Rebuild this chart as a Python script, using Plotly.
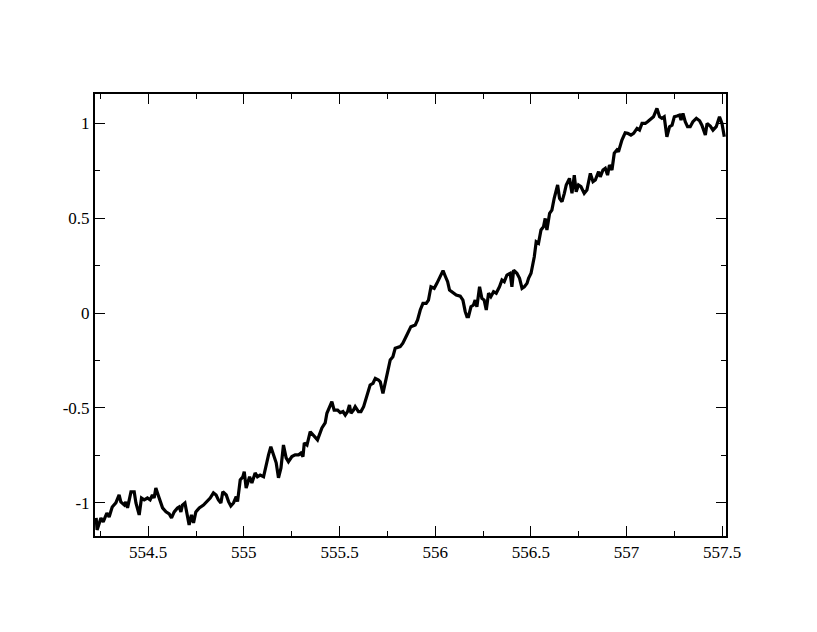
import plotly.graph_objects as go

x_vals = [
    554.228, 554.233, 554.253, 554.265, 554.284, 554.296, 554.312, 554.331, 554.348, 554.357,
    554.375, 554.383, 554.392, 554.410, 554.427, 554.436, 554.453, 554.465, 554.479, 554.496,
    554.510, 554.522, 554.531, 554.540, 554.552, 554.566, 554.575, 554.593, 554.610, 554.622,
    554.636, 554.653, 554.662, 554.671, 554.679, 554.692, 554.702, 554.714, 554.726, 554.737,
    554.749, 554.767, 554.789, 554.807, 554.824, 554.841, 554.855, 554.867, 554.880, 554.890,
    554.908, 554.920, 554.932, 554.946, 554.960, 554.967, 554.981, 554.995, 555.002, 555.012,
    555.030, 555.042, 555.059, 555.071, 555.085, 555.103, 555.117, 555.129, 555.141, 555.155,
    555.169, 555.181, 555.194, 555.207, 555.221, 555.233, 555.251, 555.268, 555.286, 555.298,
    555.309, 555.316, 555.330, 555.347, 555.364, 555.385, 555.408, 555.425, 555.434, 555.451,
    555.460, 555.472, 555.490, 555.504, 555.518, 555.530, 555.542, 555.552, 555.560, 555.573,
    555.582, 555.599, 555.612, 555.626, 555.643, 555.660, 555.675, 555.687, 555.704, 555.713,
    555.727, 555.739, 555.748, 555.756, 555.765, 555.779, 555.791, 555.817, 555.831, 555.852,
    555.873, 555.896, 555.908, 555.922, 555.936, 555.953, 555.965, 555.978, 555.995, 556.009,
    556.023, 556.041, 556.054, 556.065, 556.075, 556.093, 556.110, 556.131, 556.145, 556.157,
    556.166, 556.174, 556.187, 556.200, 556.209, 556.218, 556.232, 556.244, 556.256, 556.267,
    556.279, 556.291, 556.305, 556.319, 556.336, 556.349, 556.361, 556.375, 556.392, 556.401,
    556.410, 556.427, 556.441, 556.454, 556.466, 556.480, 556.488, 556.501, 556.511, 556.518,
    556.528, 556.540, 556.553, 556.566, 556.575, 556.584, 556.598, 556.610, 556.622, 556.640,
    556.650, 556.663, 556.675, 556.685, 556.702, 556.715, 556.727, 556.737, 556.749, 556.762,
    556.779, 556.793, 556.811, 556.825, 556.837, 556.854, 556.863, 556.877, 556.889, 556.901,
    556.911, 556.924, 556.936, 556.950, 556.958, 556.976, 556.993, 557.006, 557.023, 557.037,
    557.055, 557.068, 557.081, 557.098, 557.110, 557.128, 557.141, 557.159, 557.173, 557.185,
    557.197, 557.211, 557.225, 557.238, 557.250, 557.264, 557.277, 557.285, 557.295, 557.307,
    557.319, 557.333, 557.347, 557.365, 557.382, 557.394, 557.412, 557.421, 557.438, 557.452,
    557.469, 557.486, 557.499, 557.511,
]

y_vals = [
    -1.079, -1.142, -1.079, -1.100, -1.053, -1.074, -1.021, -1.000, -0.958, -0.995,
    -1.011, -0.995, -1.026, -0.942, -0.942, -1.000, -1.063, -0.974, -0.984, -0.974,
    -0.984, -0.958, -0.974, -0.921, -0.958, -0.995, -1.026, -1.047, -1.058, -1.079,
    -1.047, -1.026, -1.021, -1.047, -1.011, -1.000, -1.047, -1.116, -1.063, -1.105,
    -1.047, -1.026, -1.011, -0.993, -0.974, -0.947, -0.958, -0.984, -1.000, -0.941,
    -0.958, -0.993, -1.016, -1.000, -0.967, -0.993, -0.879, -0.862, -0.835, -0.921,
    -0.862, -0.895, -0.842, -0.862, -0.853, -0.862, -0.789, -0.747, -0.704, -0.747,
    -0.789, -0.868, -0.816, -0.695, -0.763, -0.783, -0.756, -0.747, -0.747, -0.738,
    -0.756, -0.684, -0.695, -0.625, -0.642, -0.668, -0.605, -0.579, -0.528, -0.493,
    -0.467, -0.511, -0.511, -0.525, -0.519, -0.537, -0.519, -0.484, -0.528, -0.511,
    -0.493, -0.519, -0.519, -0.493, -0.441, -0.379, -0.370, -0.344, -0.353, -0.362,
    -0.423, -0.370, -0.326, -0.283, -0.247, -0.230, -0.186, -0.177, -0.159, -0.116,
    -0.072, -0.063, -0.037, 0.016, 0.051, 0.051, 0.068, 0.138, 0.130, 0.156,
    0.183, 0.223, 0.191, 0.165, 0.121, 0.107, 0.095, 0.089, 0.068, 0.007,
    -0.019, -0.019, 0.033, 0.042, 0.068, 0.033, 0.138, 0.077, 0.068, 0.016,
    0.104, 0.086, 0.112, 0.104, 0.138, 0.174, 0.165, 0.200, 0.209, 0.138,
    0.226, 0.209, 0.183, 0.130, 0.138, 0.156, 0.183, 0.209, 0.262, 0.296,
    0.375, 0.367, 0.437, 0.454, 0.498, 0.437, 0.525, 0.542, 0.604, 0.674,
    0.604, 0.586, 0.630, 0.674, 0.709, 0.630, 0.726, 0.638, 0.674, 0.665,
    0.630, 0.647, 0.735, 0.691, 0.700, 0.744, 0.717, 0.753, 0.762, 0.726,
    0.779, 0.753, 0.841, 0.858, 0.849, 0.911, 0.949, 0.946, 0.937, 0.946,
    0.972, 0.963, 0.998, 0.998, 1.007, 1.025, 1.033, 1.077, 1.033, 1.025,
    1.033, 0.928, 0.981, 0.989, 1.033, 1.037, 1.042, 1.016, 1.051, 1.007,
    0.981, 0.981, 1.007, 1.025, 1.012, 0.989, 0.937, 0.998, 0.984, 0.963,
    0.981, 1.033, 0.998, 0.928,
]

x_tick_vals = [554.5, 555, 555.5, 556, 556.5, 557, 557.5]
x_tick_text = ["554.5", "555", "555.5", "556", "556.5", "557", "557.5"]
y_tick_vals = [-1, -0.5, 0, 0.5, 1]
y_tick_text = ["-1", "-0.5", "0", "0.5", "1"]

font_family = "Liberation Serif"

fig = go.Figure()
fig.add_trace(go.Scatter(
    x=x_vals, y=y_vals, mode="lines",
    line=dict(color="black", width=3.2),
    showlegend=False,
))

axis_common = dict(
    showline=True, linecolor="black", linewidth=2, mirror="allticks",
    ticks="inside", ticklen=10, tickwidth=1, tickcolor="black",
    showgrid=False, zeroline=False,
    tickfont=dict(family=font_family, size=17, color="black"),
)

fig.update_xaxes(
    range=[554.222, 557.52],
    tickmode="array", tickvals=x_tick_vals, ticktext=x_tick_text,
    minor=dict(ticks="inside", ticklen=5, tickwidth=1, tickcolor="black", dtick=0.25, tick0=554.25),
    **axis_common,
)
fig.update_yaxes(
    range=[-1.174, 1.153],
    tickmode="array", tickvals=y_tick_vals, ticktext=y_tick_text,
    minor=dict(ticks="inside", ticklen=5, tickwidth=1, tickcolor="black", dtick=0.25, tick0=0.25),
    **axis_common,
)

fig.update_layout(
    width=809, height=624,
    margin=dict(l=87, r=91, t=86, b=96),
    paper_bgcolor="white", plot_bgcolor="white",
    font=dict(family=font_family, size=17, color="black"),
)

fig.write_html("out.html")
